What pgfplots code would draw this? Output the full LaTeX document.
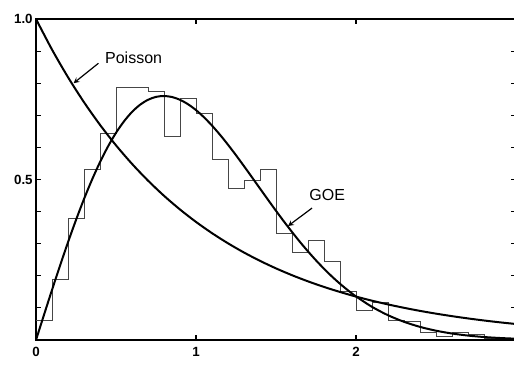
\documentclass[border=0pt]{standalone}
\usepackage{fontspec}
\setmainfont{Liberation Sans}
\usepackage{pgfplots}
\pgfplotsset{compat=1.18}
\begin{document}
\begin{tikzpicture}
\begin{axis}[
  name=ax,
  scale only axis,
  width=360pt, height=240.75pt,
  xmin=0, xmax=3, ymin=0, ymax=1,
  axis line style={line width=0.9pt},
  xtick={0,1,2}, xticklabels={0,1,2},
  ytick={0.1,0.2,0.3,0.4,0.5,0.6,0.7,0.8,0.9,1.0},
  yticklabels={{},{},{},{},0.5,{},{},{},{},1.0},
  tick align=inside,
  major tick length=4pt,
  tick style={line width=0.8pt, black},
  tick label style={font=\fontsize{10}{12}\selectfont\bfseries},
  /pgf/number format/assume math mode=true,
  xticklabel style={yshift=-2pt},
  yticklabel style={xshift=1pt},
  clip=false,
]
% histogram
\addplot[const plot mark left, line width=0.6pt, gray!55!black] coordinates {
(0.0,0.060) (0.1,0.189) (0.2,0.379) (0.3,0.530) (0.4,0.644)
(0.5,0.787) (0.6,0.787) (0.7,0.776) (0.8,0.633) (0.9,0.753)
(1.0,0.706) (1.1,0.564) (1.2,0.473) (1.3,0.498) (1.4,0.532)
(1.5,0.332) (1.6,0.272) (1.7,0.311) (1.8,0.244) (1.9,0.150)
(2.0,0.091) (2.1,0.118) (2.2,0.062) (2.3,0.057) (2.4,0.025)
(2.5,0.012) (2.6,0.025) (2.7,0.019) (2.8,0.005) (2.9,0.005) (3.0,0.005)};
% GOE (Wigner surmise)
\addplot[smooth, line width=1.5pt, black] coordinates {
(0,0) (0.05,0.0784) (0.1,0.1559) (0.15,0.2315) (0.2,0.3044) (0.25,0.3739)
(0.3,0.4391) (0.35,0.4993) (0.4,0.5541) (0.45,0.6029) (0.5,0.6454)
(0.55,0.6812) (0.6,0.7104) (0.65,0.7327) (0.7,0.7483) (0.75,0.7574)
(0.8,0.7601) (0.85,0.7570) (0.9,0.7483) (0.95,0.7345) (1.0,0.7162)
(1.05,0.6938) (1.1,0.6680) (1.15,0.6393) (1.2,0.6083) (1.25,0.5756)
(1.3,0.5416) (1.35,0.5068) (1.4,0.4718) (1.45,0.4369) (1.5,0.4025)
(1.55,0.3689) (1.6,0.3366) (1.65,0.3054) (1.7,0.2760) (1.75,0.2481)
(1.8,0.2220) (1.85,0.1976) (1.9,0.1752) (1.95,0.1546) (2.0,0.1358)
(2.1,0.1033) (2.2,0.0772) (2.3,0.0567) (2.4,0.0409) (2.5,0.0290)
(2.6,0.0202) (2.7,0.0138) (2.8,0.0093) (2.9,0.0062) (3.0,0.0040)};
% Poisson
\addplot[smooth, line width=1.5pt, black] coordinates {
(0,1) (0.1,0.9048) (0.2,0.8187) (0.3,0.7408) (0.4,0.6703) (0.5,0.6065)
(0.6,0.5488) (0.7,0.4966) (0.8,0.4493) (0.9,0.4066) (1.0,0.3679)
(1.1,0.3329) (1.2,0.3012) (1.3,0.2725) (1.4,0.2466) (1.5,0.2231)
(1.6,0.2019) (1.7,0.1827) (1.8,0.1653) (1.9,0.1496) (2.0,0.1353)
(2.1,0.1225) (2.2,0.1108) (2.3,0.1003) (2.4,0.0907) (2.5,0.0821)
(2.6,0.0743) (2.7,0.0672) (2.8,0.0608) (2.9,0.0550) (3.0,0.0498)};
\node[font=\fontsize{12}{14}\selectfont] at (axis cs:0.61,0.88) {Poisson};
\draw[-stealth, line width=0.9pt] (axis cs:0.39,0.862) -- (axis cs:0.235,0.800);
\node[font=\fontsize{12}{14}\selectfont] at (axis cs:1.82,0.452) {GOE};
\draw[-stealth, line width=0.9pt] (axis cs:1.725,0.411) -- (axis cs:1.575,0.355);
\end{axis}
\pgfresetboundingbox
\path[use as bounding box] ([shift={(-27pt,-18.75pt)}]ax.south west) rectangle ([shift={(-1.5pt,14.25pt)}]ax.north east);
\end{tikzpicture}
\end{document}
